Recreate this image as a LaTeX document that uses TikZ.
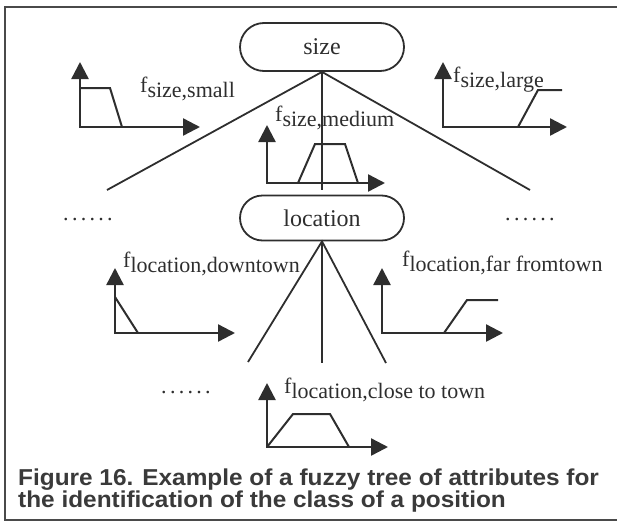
\documentclass[tikz,border=0pt]{standalone}
\usepackage{fontspec}
\setmainfont{Liberation Serif}
\newfontfamily\capfont{Liberation Sans}
\usetikzlibrary{arrows.meta}

\definecolor{ink}{HTML}{2E2E2E}
\definecolor{captionink}{HTML}{3A3A3A}
\definecolor{frameink}{HTML}{4A4A4A}

% membership function name: f with a lowered index
\newcommand{\mfn}[1]{f\raisebox{-5pt}{#1}}
% row of six dots for omitted branches
\newcommand{\omitrow}{.\kern3.3pt.\kern3.3pt.\kern3.3pt.\kern3.3pt.\kern3.3pt.}
% caption lines are set slightly wide
\newcommand{\capline}[1]{\scalebox{1.06}[1]{#1}}

\begin{document}
\begin{tikzpicture}[x=1pt,y=-1pt,
  frame/.style={draw=frameink, line width=2pt},
  branch/.style={draw=ink, line width=1.8pt},
  axes/.style={draw=ink, line width=2.4pt,
    {Triangle[length=17pt,width=17pt]}-{Triangle[length=17pt,width=17pt]}},
  curve/.style={draw=ink, line width=2pt, line join=miter},
  attr/.style={draw=ink, line width=1.8pt, minimum width=164pt, inner sep=0pt,
    font=\fontsize{24}{28}\selectfont, text=ink},
  mlabel/.style={anchor=base west, inner sep=0pt,
    font=\fontsize{22}{26}\selectfont, text=ink},
  caption/.style={anchor=base west, inner sep=0pt,
    font=\capfont\bfseries\fontsize{23}{25}\selectfont, text=captionink},
]
\useasboundingbox (0,0) rectangle (617,522);

% outer frame (open on the right)
\draw[frame] (617,7) -- (5,7) -- (5,520) -- (617,520);

% attribute nodes
\node[attr, minimum height=48pt, rounded corners=24pt] (size) at (322,47) {size};
\node[attr, minimum height=45pt, rounded corners=22.5pt] (location) at (322,218) {location};

% branches of "size"
\coordinate (sizeL) at (107,190);
\coordinate (sizeM) at (322,190);
\coordinate (sizeR) at (530,190);
\draw[branch] (sizeL) -- (size.south) -- (sizeR);
\draw[branch] (size.south) -- (sizeM);

% branches of "location"
\coordinate (locL) at (248,362);
\coordinate (locM) at (322,363);
\coordinate (locR) at (386,363);
\draw[branch] (locL) -- (location.south) -- (locR);
\draw[branch] (location.south) -- (locM);

% omitted siblings
\node[mlabel] (dotsL) at (63,220) {\omitrow};
\node[mlabel] (dotsR) at (505,220) {\omitrow};
\node[mlabel] (dotsB) at (161,393) {\omitrow};

% f_size,small
\draw[axes] (80,62) -- (80,127) -- (200,127);
\draw[curve] (80,88) -- (110,88) -- (122,127);
\node[mlabel] (fsmall) at (140,92) {\mfn{size,small}};

% f_size,medium
\draw[axes] (267,125) -- (267,183) -- (385,183);
\draw[curve] (298,183) -- (315,144) -- (345,144) -- (358,183);
\node[mlabel] (fmedium) at (275,121) {\mfn{size,medium}};

% f_size,large
\draw[axes] (443,62) -- (443,127) -- (567,127);
\draw[curve] (518,127) -- (538,90) -- (562,90);
\node[mlabel] (flarge) at (453,82) {\mfn{size,large}};

% f_location,downtown
\draw[axes] (115,268) -- (115,333) -- (235,333);
\draw[curve] (115,297) -- (138,333);
\node[mlabel] (fdown) at (123,267) {\mfn{location,downtown}};

% f_location,far from town
\draw[axes] (382,268) -- (382,333) -- (503,333);
\draw[curve] (444,333) -- (467,300) -- (498,300);
\node[mlabel] (ffar) at (402,266) {\mfn{location,far fromtown}};

% f_location,close to town
\draw[axes] (267,383) -- (267,447) -- (388,447);
\draw[curve] (267,447) -- (293,414) -- (330,414) -- (349,447);
\node[mlabel] (fclose) at (284,393) {\mfn{location,close to town}};

% caption
\node[caption] (cap1) at (18,485) {\capline{Figure 16. Example of a fuzzy tree of attributes for}};
\node[caption] (cap2) at (18,507) {\capline{the identification of the class of a position}};
\end{tikzpicture}
\end{document}
